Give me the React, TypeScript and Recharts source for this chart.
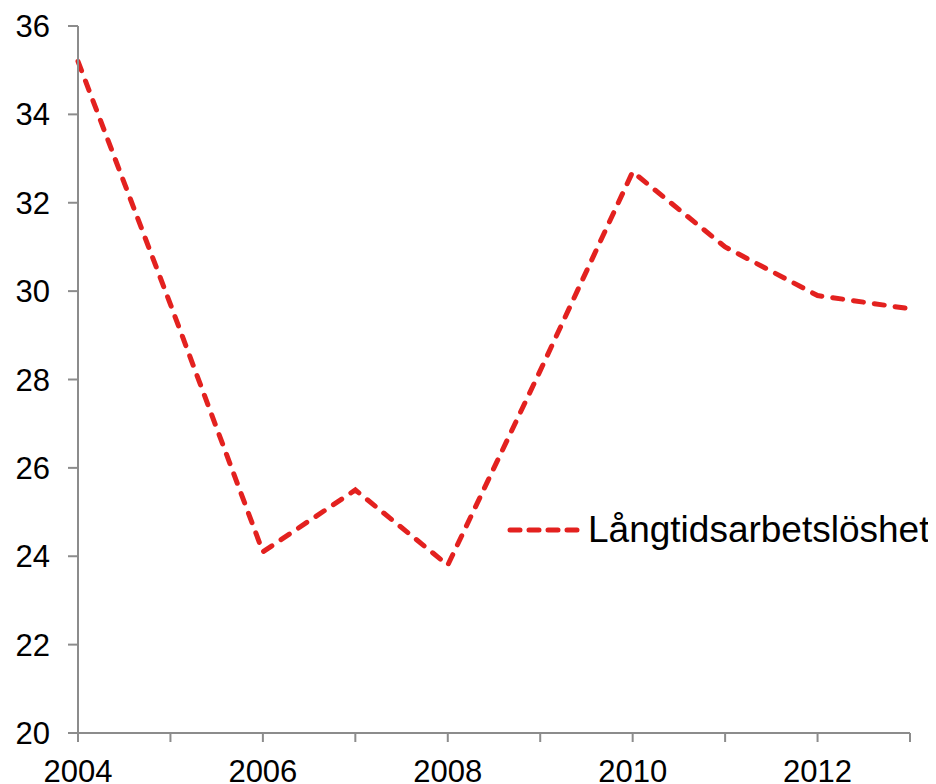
import { LineChart, Line, XAxis, YAxis } from 'recharts';

const years = ['2004', '2005', '2006', '2007', '2008', '2009', '2010', '2011', '2012', '2013'];
const longTermUnemployment = [35.2, 29.7, 24.1, 25.5, 23.8, 28.2, 32.7, 31.0, 29.9, 29.6];
const yTicks = [20, 22, 24, 26, 28, 30, 32, 34, 36];
const seriesName = 'Långtidsarbetslöshet';

const RED = '#e3211f';
const AXIS = '#8c8c8c';
const FONT = '"Liberation Sans", Arial, sans-serif';

const data = years.map((year, i) => ({ year, value: longTermUnemployment[i] }));

// legend sits inside the plot, drawn on top so it doesn't shrink the plot area
function LegendBox() {
  return (
    <div
      style={{
        position: 'absolute',
        left: 499,
        top: 500,
        display: 'flex',
        alignItems: 'center',
        height: 44,
        fontFamily: FONT,
      }}
    >
      <svg width={78} height={10} style={{ display: 'block' }}>
        <line
          x1={3}
          y1={5}
          x2={75}
          y2={5}
          stroke={RED}
          strokeWidth={5}
          strokeLinecap="round"
          strokeDasharray="10 9"
        />
      </svg>
      <span style={{ fontSize: 37, color: '#000', marginLeft: 3, whiteSpace: 'nowrap' }}>{seriesName}</span>
    </div>
  );
}

export default function App() {
  return (
    <div style={{ position: 'relative', width: 928, height: 776, fontFamily: FONT }}>
      <LineChart width={928} height={776} data={data} margin={{ top: 18, right: 26, bottom: 0, left: 0 }}>
        <XAxis
          dataKey="year"
          interval={0}
          height={51}
          tickSize={9}
          tickMargin={18}
          stroke={AXIS}
          axisLine={{ stroke: AXIS, strokeWidth: 2 }}
          tickLine={{ stroke: AXIS, strokeWidth: 2 }}
          tick={{ fill: '#000', fontSize: 31, fontFamily: FONT }}
          tickFormatter={(v) => (Number(v) % 2 === 0 ? String(v) : '')}
        />
        <YAxis
          domain={[20, 36]}
          ticks={yTicks}
          interval={0}
          width={70}
          tickSize={10}
          tickMargin={18}
          stroke={AXIS}
          axisLine={{ stroke: AXIS, strokeWidth: 2 }}
          tickLine={{ stroke: AXIS, strokeWidth: 2 }}
          tick={{ fill: '#000', fontSize: 31, fontFamily: FONT }}
        />
        <Line
          type="linear"
          dataKey="value"
          name={seriesName}
          stroke={RED}
          strokeWidth={5}
          strokeLinecap="round"
          strokeDasharray="10 11"
          dot={false}
          activeDot={false}
          isAnimationActive={false}
        />
      </LineChart>
      <LegendBox />
    </div>
  );
}
